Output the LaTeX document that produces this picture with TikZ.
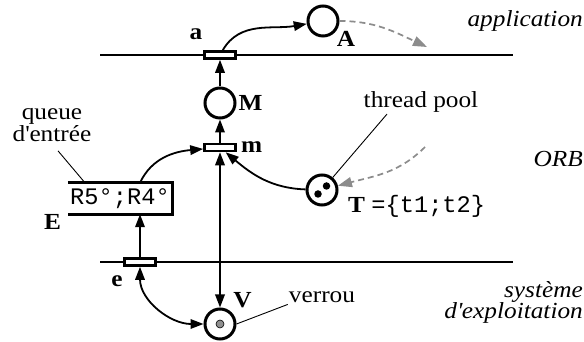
\documentclass[tikz,border=0pt]{standalone}
\usepackage{fontspec}
\setmainfont{Liberation Serif}[FakeStretch=1.1]
\setmonofont{Liberation Mono}[Scale=1.03]
\usepackage{tikz}
\usetikzlibrary{positioning,arrows.meta}
\definecolor{fluxgris}{HTML}{8C8C8C}
\definecolor{jetongris}{HTML}{8F8F8F}
\newcommand{\xgauche}{100}
\newcommand{\xdroite}{513}
\newcommand{\yapp}{287}
\newcommand{\yos}{80}

\begin{document}
\begin{tikzpicture}[
    x=1pt, y=1pt,
    every node/.style={font=\fontsize{23}{22}\selectfont, align=center},
    lieu/.style={circle, draw, line width=3pt, minimum size=30pt, inner sep=0pt, fill=white},
    transit/.style={rectangle, draw, line width=2.6pt, minimum width=31pt, minimum height=7pt, inner sep=0pt, fill=white},
    file/.style={rectangle, minimum width=104pt, minimum height=31pt, inner sep=0pt,
      font=\fontsize{23}{22}\selectfont\ttfamily},
    bord/.style={line width=3pt},
    jeton/.style={circle, fill=black, minimum size=7.5pt, inner sep=0pt},
    verrouillage/.style={circle, draw, fill=jetongris, line width=0.6pt, minimum size=8pt, inner sep=0pt},
    lbl/.style={font=\fontsize{23}{22}\selectfont\bfseries, inner sep=1pt},
    note/.style={inner sep=1pt},
    couche/.style={font=\fontsize{23}{20}\selectfont\itshape, inner sep=0pt, align=right},
    separ/.style={line width=1.2pt},
    fleche/.style={-{Triangle[length=13pt,width=9.5pt]}, line width=1.8pt},
    fleches/.style={{Triangle[length=13pt,width=9.5pt]}-{Triangle[length=13pt,width=9.5pt]}, line width=1.8pt},
    flux/.style={-{Triangle[length=14pt,width=10pt]}, fluxgris, line width=1.7pt, dash pattern=on 6pt off 4pt},
    renvoi/.style={line width=0.9pt}
  ]
  \useasboundingbox (0,0) rectangle (584,342);

  % --- separations entre les couches ---------------------------------------
  \draw[separ] (\xgauche,\yapp) -- (\xdroite,\yapp);
  \draw[separ] (\xgauche,\yos) -- (\xdroite,\yos);

  \node[couche, anchor=base east] (app) at (583,315) {application};
  \node[couche, anchor=base east] (orb) at (583,175) {ORB};
  \node[couche, anchor=east] (os) at (583,39.5) {système\\d\textquotesingle exploitation};

  % --- places et transitions -----------------------------------------------
  \node[transit] (a) at (220,\yapp) {};
  \node[lieu] (A) at (323,321) {};
  \node[lieu] (M) at (220,239) {};
  \node[transit] (m) at (220,194.5) {};
  \node[lieu] (T) at (322,152) {};
  \node[jeton] (t1) at (318,148) {};
  \node[jeton] (t2) at (326.5,156) {};
  \node[file] (E) at (120,143.5) {R5°;R4°};
  \node[transit] (e) at (140,\yos) {};
  \node[lieu] (V) at (220,18) {};
  \node[verrouillage] (v1) at (V) {};

  % file d'entree ouverte a gauche
  \draw[bord] (E.north west) -- (E.north east) -- (E.south east) -- (E.south west);

  % --- noms des elements -----------------------------------------------------
  \node[lbl, anchor=base] (alab) at (196,302) {a};
  \node[lbl, anchor=base] (Alab) at (346,295) {A};
  \node[lbl, right=1pt of M] (Mlab) {M};
  \node[lbl, right=3pt of m] (mlab) {m};
  \node[lbl, anchor=base] (Elab) at (52.5,112) {E};
  \node[lbl, anchor=base] (elab) at (117,55) {e};
  \node[lbl, anchor=base] (Vlab) at (242.5,34) {V};
  \node[note, anchor=base west, inner sep=0pt] (Tlab) at (348,129) {\textbf{T} \texttt{=\{t1;t2\}}};

  \node[note] (ql) at (52,217) {queue\\d\textquotesingle entrée};
  \node[note, anchor=base] (tp) at (421,234) {thread pool};
  \node[note, anchor=base] (vr) at (322,39) {verrou};

  % --- arcs du reseau --------------------------------------------------------
  \draw[fleche] (M) -- (a);
  \draw[fleche] (m) -- (M);
  \draw[fleche] (a) to[out=60,in=190] (A);
  \draw[fleche] (T) to[out=178,in=-40] (m);
  \draw[fleches] (m) -- (V);
  \draw[fleche] (e) -- (e |- E.south);
  \draw[fleche] (e |- E.north) to[out=65,in=185] (m);
  \draw[fleches] (e) to[out=-90,in=180] (V);

  % --- flux hors du reseau ---------------------------------------------------
  \coordinate (sortieA) at (427,295);
  \coordinate (entreeT) at (425,195);
  \draw[flux] (A) to[out=0,in=155] (sortieA);
  \draw[flux] (entreeT) to[out=-135,in=15] (T);

  % --- renvois des commentaires ----------------------------------------------
  \draw[renvoi] ([shift={(6pt,-8pt)}]ql.south) -- ([xshift=-35pt]E.north);
  \draw[renvoi] ([xshift=-34pt]tp.south) -- (T);
  \draw[renvoi] (vr.south west) -- (V.east);

\end{tikzpicture}
\end{document}
